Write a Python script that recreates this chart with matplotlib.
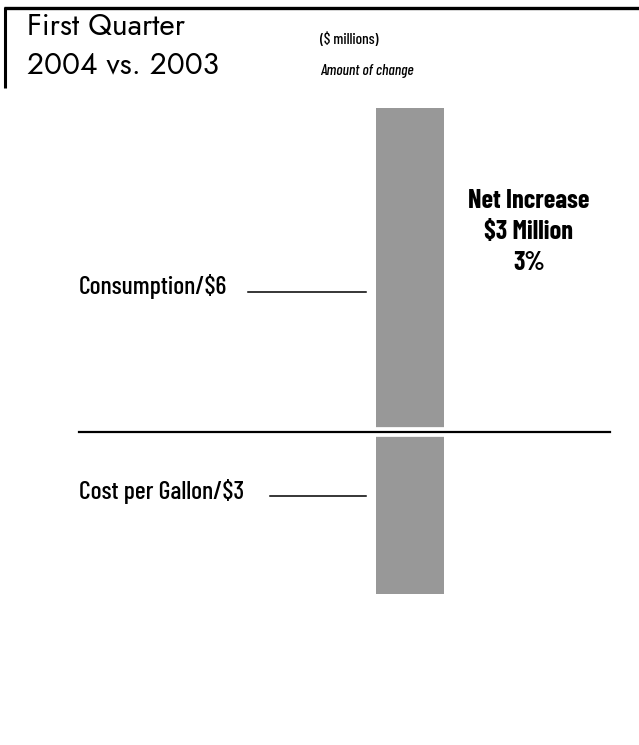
import matplotlib
matplotlib.use("Agg")
import matplotlib.pyplot as plt
from matplotlib.lines import Line2D

# amounts of change, $ millions
categories = ["Consumption", "Cost per Gallon"]
changes = [6, -3]
net_change = sum(changes)
net_pct = 3

W, H = 639, 745
fig = plt.figure(figsize=(W / 100, H / 100), dpi=100)
fig.patch.set_facecolor("white")

narrow = ["Barlow Condensed", "DejaVu Sans"]
title_font = ["Jost", "DejaVu Sans"]


def fx(x):
    return x / W


def fy(y):
    return 1 - y / H


# axes over the whole figure; x in pixels, y in $ millions (54 px per unit)
ax = fig.add_axes([0, 0, 1, 1])
scale = 54.0
zero_px = 432
ax.set_xlim(0, W)
ax.set_ylim(-(H - zero_px) / scale, zero_px / scale)
ax.axis("off")

bar_x, bar_w = 410, 68
ax.bar([bar_x] * len(changes), changes, width=bar_w, color="#989898", zorder=2)

# zero line with a white gap around it
ax.axhline(0, xmin=fx(79), xmax=fx(610), color="white", lw=7, zorder=3)
ax.axhline(0, xmin=fx(79), xmax=fx(610), color="black", lw=1.6, zorder=4)

# header frame
fig.add_artist(Line2D([fx(4), fx(W)], [fy(8), fy(8)], color="black", lw=2.4,
                      solid_capstyle="butt"))
fig.add_artist(Line2D([fx(4.5), fx(4.5)], [fy(7), fy(88)], color="black", lw=2.2,
                      solid_capstyle="butt"))

fig.text(fx(27), fy(35), "First Quarter", fontsize=21.5, family=title_font,
         va="baseline", ha="left")
fig.text(fx(27), fy(73), "2004 vs. 2003", fontsize=21.5, family=title_font,
         va="baseline", ha="left")
fig.text(fx(320), fy(44), "($ millions)", fontsize=11, family=narrow,
         weight="medium", va="baseline", ha="left")
fig.text(fx(320), fy(75), "Amount of change", fontsize=11, family=narrow,
         style="italic", weight="medium", va="baseline", ha="left")

# category labels with leader lines
label_rows = [(292, 248), (496, 270)]
for cat, val, (ly, lx) in zip(categories, changes, label_rows):
    fig.text(fx(79), fy(ly - 5), f"{cat}/${abs(val)}", fontsize=18.5, family=narrow,
             weight="medium", va="center", ha="left")
    fig.add_artist(Line2D([fx(lx), fx(366)], [fy(ly), fy(ly)], color="black", lw=1.1))

fig.text(fx(529), fy(232),
         f"Net Increase\n${net_change} Million\n{net_pct}%",
         fontsize=19, family=narrow, weight="bold", ha="center", va="center",
         linespacing=1.38)

fig.savefig("out.png", dpi=100, facecolor="white")
